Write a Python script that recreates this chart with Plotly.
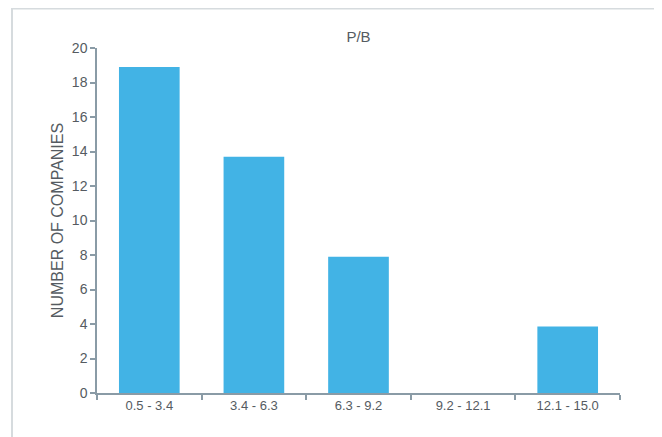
import plotly.graph_objects as go

categories = ["0.5 - 3.4", "3.4 - 6.3", "6.3 - 9.2", "9.2 - 12.1", "12.1 - 15.0"]
counts = [18.9, 13.7, 7.9, 0, 3.85]
y_ticks = [0, 2, 4, 6, 8, 10, 12, 14, 16, 18, 20]

W, H = 662, 437
OFF = 8  # page body margin offset
ml, mr, mt, mb = 97 - OFF, 50, 48 - OFF, 52
pw, ph = W - ml - mr, H - mt - mb

fig = go.Figure(go.Bar(x=categories, y=counts, marker_color="#42b3e5",
                       marker_line_width=0, width=0.58))

axis_col = "#8a9ba6"
txt_col = "#555b61"
fig.update_layout(
    width=W, height=H,
    margin=dict(l=ml, r=mr, t=mt, b=mb, autoexpand=False),
    paper_bgcolor="white", plot_bgcolor="white",
    font=dict(family="Liberation Sans, Arial, sans-serif", color=txt_col, size=13),
    title=dict(text="P/B", x=(ml + pw / 2) / W, xanchor="center", y=1 - (37 - OFF) / H, yanchor="middle",
               font=dict(size=15, color=txt_col)),
    showlegend=False,
)
fig.update_xaxes(showline=True, linecolor=axis_col, linewidth=1.5, ticks="outside",
                 tickson="boundaries", ticklen=5, tickcolor=axis_col, tickwidth=1.5,
                 showgrid=False, tickfont=dict(size=13), zeroline=False)
fig.update_yaxes(range=[0, 20], tickvals=y_ticks, showline=True, linecolor=axis_col,
                 linewidth=1.5, ticks="outside", ticklen=5, tickcolor=axis_col, tickwidth=1.5,
                 showgrid=False, zeroline=False, tickfont=dict(size=14),
                 title=dict(text="NUMBER OF COMPANIES", font=dict(size=16, color=txt_col), standoff=4))

# frame around the card (figure pixel coordinates converted to paper units)
fx0, fx1, fy_top = 4, 647.5, 0.5
fig.add_shape(type="path", xref="paper", yref="paper",
              path="M {a},{b} L {a},{c} L {d},{c} L {d},{b}".format(
                  a=(fx0 - ml) / pw, b=(H - mb - 470) / ph,
                  c=(H - mb - fy_top) / ph, d=(fx1 - ml) / pw),
              line=dict(color="#d6dbde", width=2), layer="below")

fig.write_html("out.html")
